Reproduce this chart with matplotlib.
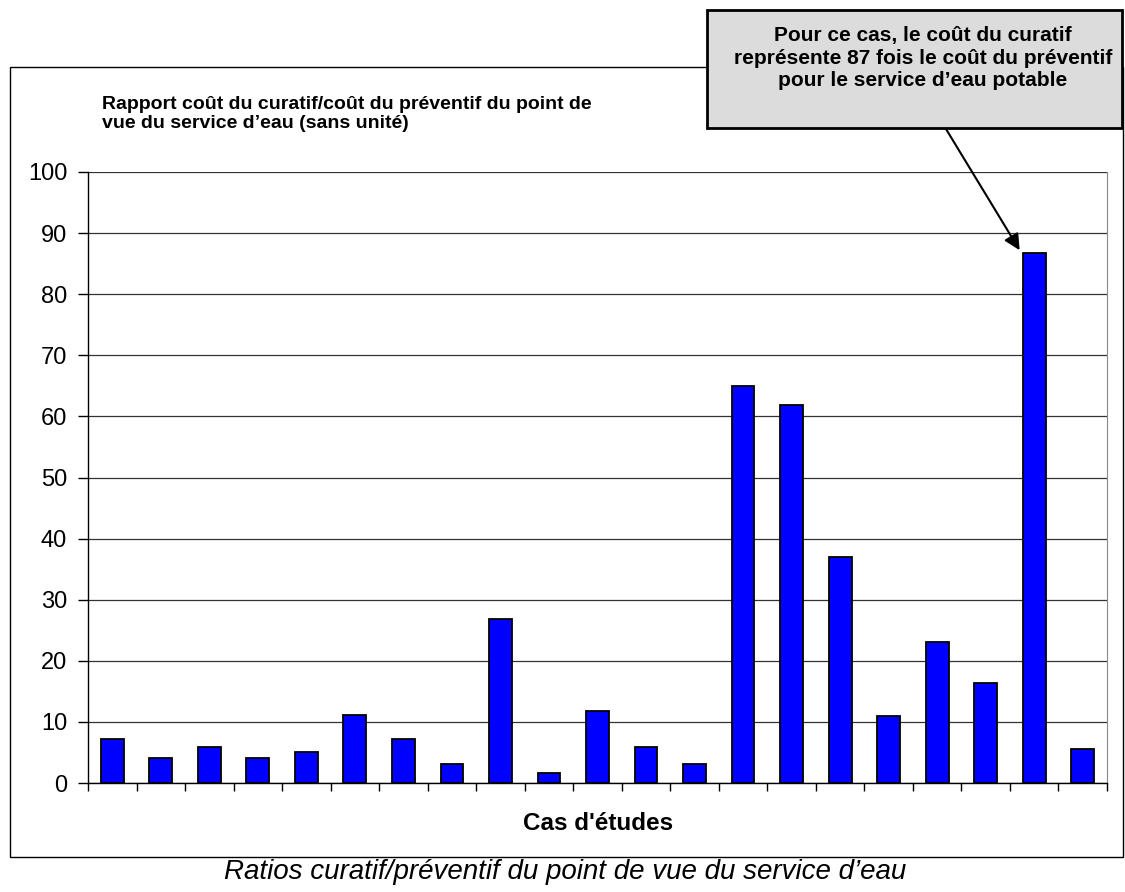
import numpy as np
import matplotlib.pyplot as plt
from matplotlib.patches import Rectangle

plt.rcParams['font.family'] = ['Liberation Sans', 'DejaVu Sans']

# Ratio curatif/préventif pour chaque cas d'étude
cases = list(range(1, 22))
ratios = [7.2, 4.1, 5.9, 4.1, 5.0, 11.2, 7.2, 3.1, 26.9, 1.6, 11.8,
          5.9, 3.1, 65.0, 61.8, 37.0, 10.9, 23.1, 16.3, 86.7, 5.6]
yticks = list(range(0, 101, 10))

fig = plt.figure(figsize=(11.25, 8.92), dpi=100)

# outer chart frame
fig.patches.append(Rectangle((10 / 1125, 1 - 857 / 892), 1113 / 1125, 790 / 892,
                             transform=fig.transFigure, fill=False,
                             edgecolor='black', linewidth=1.0))

ax = fig.add_axes([88 / 1125, 1 - 783 / 892, 1019 / 1125, 611 / 892])
x = np.arange(len(cases))
ax.bar(x, ratios, width=0.47, color='#0000ff', edgecolor='black', linewidth=1.3, zorder=3)

ax.set_xlim(-0.5, len(cases) - 0.5)
ax.set_ylim(0, 100)
ax.set_yticks(yticks)
ax.set_yticklabels([str(v) for v in yticks], fontsize=17)
ax.tick_params(axis='y', direction='out', length=7, width=1, pad=8)
ax.set_xticks(np.arange(-0.5, len(cases) + 0.5, 1))
ax.set_xticklabels([])
ax.tick_params(axis='x', direction='out', length=6, width=1)
ax.grid(axis='y', color='#333333', linewidth=0.9, zorder=0)
ax.spines['top'].set_visible(False)
ax.spines['right'].set_color('#888888')
ax.spines['left'].set_linewidth(1)
ax.spines['bottom'].set_linewidth(1)

fig.text(102 / 1125, 1 - 114 / 892,
         "Rapport coût du curatif/coût du préventif du point de\nvue du service d\u2019eau (sans unité)",
         fontsize=14, fontweight='bold', va='center', ha='left', linespacing=1.2)

fig.text(598 / 1125, 1 - 823 / 892, "Cas d'études", fontsize=17.5, fontweight='bold',
         ha='center', va='center')

fig.text(565 / 1125, 1 - 872 / 892, "Ratios curatif/préventif du point de vue du service d\u2019eau",
         fontsize=20, style='italic', ha='center', va='center')

# annotation box
fig.patches.append(Rectangle((707 / 1125, 1 - 128 / 892), 415 / 1125, 118 / 892,
                             transform=fig.transFigure, facecolor='#dcdcdc',
                             edgecolor='black', linewidth=2, zorder=5))
fig.text(923 / 1125, 1 - 58 / 892,
         "Pour ce cas, le coût du curatif\nreprésente 87 fois le coût du préventif\npour le service d\u2019eau potable",
         fontsize=15, fontweight='bold', ha='center', va='center', linespacing=1.2, zorder=6)

ax.annotate("", xy=(19 - 0.3, ratios[19] + 0.5), xycoords='data',
            xytext=(946 / 1125, 1 - 129 / 892), textcoords='figure fraction',
            arrowprops=dict(arrowstyle='-|>', color='black', lw=1.5, mutation_scale=24,
                            shrinkA=0, shrinkB=0),
            annotation_clip=False)

fig.savefig('out.png', dpi=100)
